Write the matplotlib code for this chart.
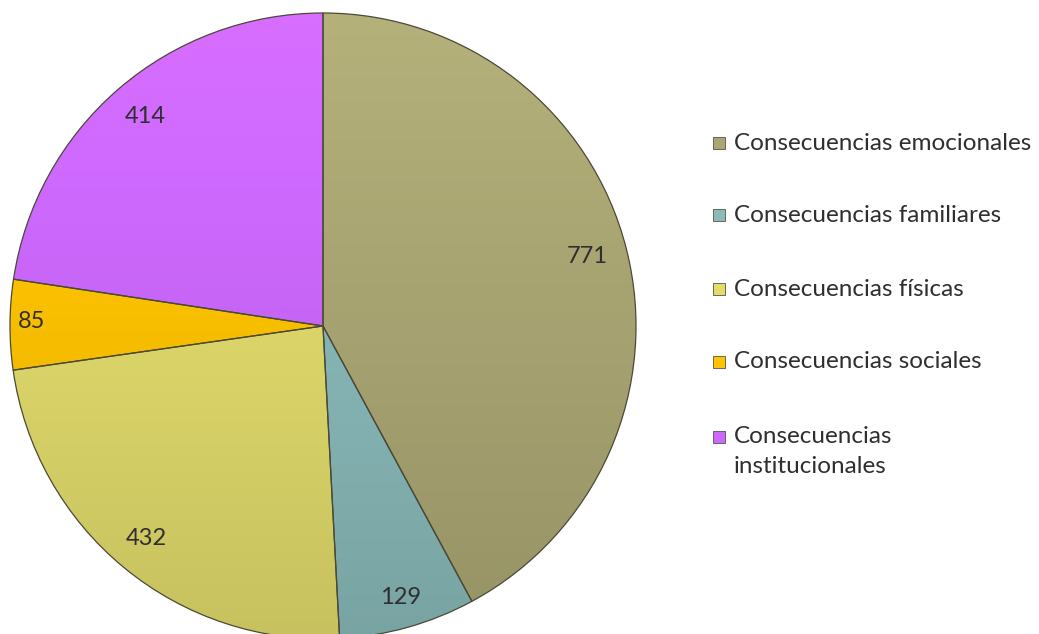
import numpy as np
import matplotlib.pyplot as plt
from matplotlib.colors import to_rgb
from matplotlib.patches import Rectangle

# datos
categorias = ["Consecuencias emocionales", "Consecuencias familiares",
              "Consecuencias físicas", "Consecuencias sociales",
              "Consecuencias\ninstitucionales"]
valores = [771, 129, 432, 85, 414]
colores = ["#aba774", "#8ababa", "#e2dc6c", "#ffc400", "#cc68fc"]
dist_etiquetas = [0.87, 0.91, 0.89, 0.93, 0.87]

plt.rcParams['font.family'] = ['Lato', 'DejaVu Sans']

fig = plt.figure(figsize=(10.39, 6.34), dpi=100)
W, H = 1039, 634
cx, cy, r = 323, 326, 313
ax = fig.add_axes([(cx - r) / W, (H - cy - r) / H, 2 * r / W, 2 * r / H])

wedges, _ = ax.pie(valores, startangle=90, counterclock=False, radius=1,
                   colors=colores,
                   wedgeprops=dict(edgecolor='#4a4838', linewidth=0.9))

# degradado vertical: más claro arriba, más oscuro abajo
yy = np.linspace(1, -1, 400)[:, None] * np.ones((1, 400))
shade = 0.97 + 0.09 * yy
for w, c in zip(wedges, colores):
    base = np.array(to_rgb(c))
    img = np.clip(base[None, None, :] * shade[:, :, None], 0, 1)
    im = ax.imshow(img, extent=[-1, 1, -1, 1], zorder=w.get_zorder() - 0.1,
                   interpolation='bilinear')
    im.set_clip_path(w)
    w.set_facecolor('none')
ax.set_xlim(-1, 1)
ax.set_ylim(-1, 1)
ax.set_aspect('equal')
ax.axis('off')

for w, v, d in zip(wedges, valores, dist_etiquetas):
    ang = np.deg2rad((w.theta1 + w.theta2) / 2)
    ax.text(d * np.cos(ang), d * np.sin(ang) + 0.01, str(v), ha='center', va='center',
            fontsize=17, color='#2f2f2f')

# leyenda
ys = [143, 215, 289, 362, 437]
for y, lab, c in zip(ys, categorias, colores):
    fig.patches.append(Rectangle((713 / W, (H - y - 6) / H), 12 / W, 12 / H,
                                 transform=fig.transFigure, facecolor=c,
                                 edgecolor='#555544', linewidth=0.6))
    if '\n' in lab:
        fig.text(734 / W, (H - y + 11) / H, lab, ha='left', va='top',
                 fontsize=17.5, color='#2f2f2f', linespacing=1.55)
    else:
        fig.text(734 / W, (H - y) / H, lab, ha='left', va='center',
                 fontsize=17.5, color='#2f2f2f')

fig.savefig('out.png', dpi=100)
